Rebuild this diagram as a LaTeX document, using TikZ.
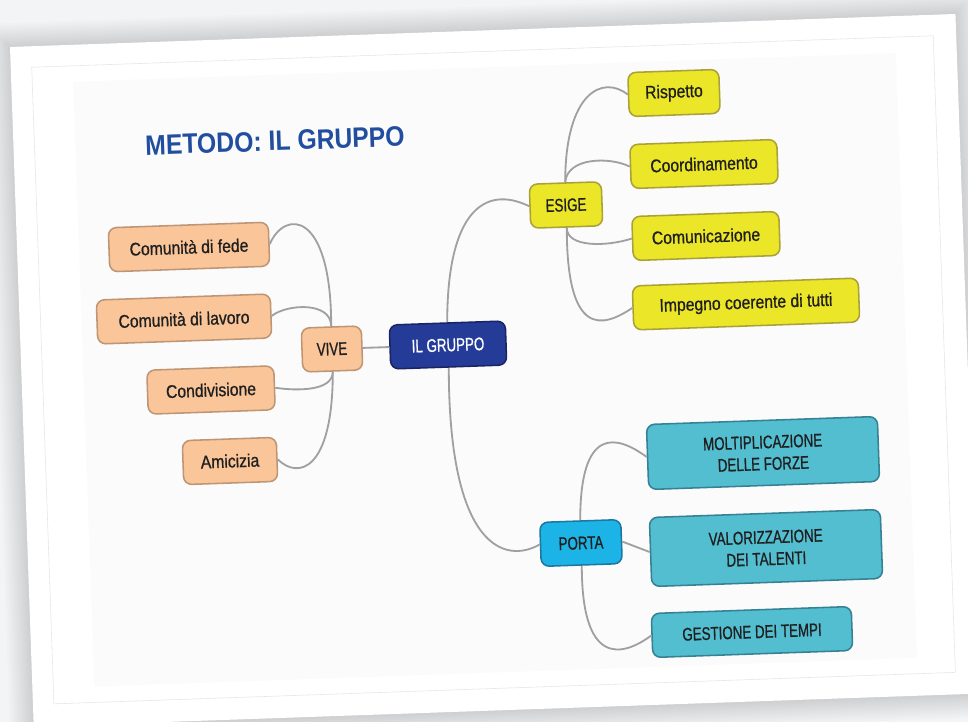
\documentclass[tikz,border=0pt]{standalone}
\usepackage{fontspec}
\setmainfont[FakeStretch=0.88]{Liberation Sans}
\newfontfamily\labelfont[FakeStretch=0.86,FakeBold=0.8]{Liberation Sans}
\newfontfamily\capsfont[FakeStretch=0.73,FakeBold=0.8]{Liberation Sans}

\definecolor{peach}{RGB}{249,197,153}
\definecolor{peachline}{RGB}{190,150,118}
\definecolor{giallo}{RGB}{236,230,40}
\definecolor{giallobordo}{RGB}{170,162,56}
\definecolor{ciano}{RGB}{28,180,230}
\definecolor{cianobordo}{RGB}{28,120,160}
\definecolor{verdeacqua}{RGB}{82,190,208}
\definecolor{verdeacquabordo}{RGB}{54,130,148}
\definecolor{blunotte}{RGB}{36,60,152}
\definecolor{blubordo}{RGB}{26,36,100}
\definecolor{titolo}{RGB}{34,78,160}
\definecolor{filo}{RGB}{160,160,162}
\definecolor{sfondo}{RGB}{243,244,246}
\definecolor{pannello}{RGB}{251,251,252}

\begin{document}
\begin{tikzpicture}[x=0.25mm,y=-0.25mm,
    box/.style={rounded corners=2mm, rotate=2, line width=1.1pt, inner sep=0pt,
        minimum height=11mm, text=black!88, align=center,
        font=\labelfont\fontsize{13}{14}\selectfont},
    caps/.style={font=\capsfont\fontsize{13}{15.5}\selectfont},
    vive/.style={box, fill=peach, draw=peachline},
    esige/.style={box, fill=giallo, draw=giallobordo},
    porta/.style={box, caps, fill=verdeacqua, draw=verdeacquabordo},
    link/.style={draw=filo, line width=1.3pt}]

        \useasboundingbox (0,0) rectangle (968,722);
        \clip (0,0) rectangle (968,722);
        \fill[sfondo] (0,0) rectangle (968,722);

        % Card, a little turned
        \begin{scope}[shift={(10,47)}, rotate=2]
            \foreach \s in {2,4,...,24}
                \fill[black, opacity=0.013] (-\s,-\s) rectangle (946+\s,680+\s);
            \fill[white] (0,0) rectangle (946,680);
            \draw[black!10, line width=0.4pt] (21,21) rectangle (923,658);
            \fill[pannello] (62,37) rectangle (885,642);
        \end{scope}

        \node[rotate=2, text=titolo, font=\bfseries\fontsize{20}{22}\selectfont] (Titolo) at (275,141) {METODO: IL GRUPPO};

        % Centre
        \node[box, caps, fill=blunotte, draw=blubordo, text=white, minimum width=29mm] (Gruppo) at (448,345) {IL GRUPPO};

        % Left branch
        \node[vive, caps, minimum width=15mm] (Vive) at (332,349) {VIVE};
        \node[vive, minimum width=40mm] (Fede) at (189,247) {Comunità di fede};
        \node[vive, minimum width=43.5mm] (Lavoro) at (184,319) {Comunità di lavoro};
        \node[vive, minimum width=31.75mm] (Condivisione) at (211,390) {Condivisione};
        \node[vive, minimum width=23.5mm] (Amicizia) at (230,461) {Amicizia};

        % Upper right branch
        \node[esige, caps, minimum width=18mm] (Esige) at (566,205) {ESIGE};
        \node[esige, minimum width=22.75mm] (Rispetto) at (674,93) {Rispetto};
        \node[esige, minimum width=36.75mm] (Coordinamento) at (704,164) {Coordinamento};
        \node[esige, minimum width=36.75mm] (Comunicazione) at (706,236) {Comunicazione};
        \node[esige, minimum width=56.5mm] (Impegno) at (746,304) {Impegno coerente di tutti};

        % Lower right branch
        \node[box, caps, fill=ciano, draw=cianobordo, minimum width=20.25mm] (Porta) at (581,543) {PORTA};
        \node[porta, minimum width=57.75mm, minimum height=16.25mm] (Forze) at (763,453) {MOLTIPLICAZIONE\\DELLE FORZE};
        \node[porta, minimum width=57.75mm, minimum height=17.25mm] (Talenti) at (766,548) {VALORIZZAZIONE\\DEI TALENTI};
        \node[porta, minimum width=50mm] (Tempi) at (752,632) {GESTIONE DEI TEMPI};

        \draw[link] (Vive.east) -- (Gruppo.west);
        \draw[link] (Porta.east) -- (Talenti.west);

        \foreach \from/\to/\ca/\cb in {
            Vive.north/Fede.east/{0,-116}/{15,-35},
            Vive.north/Lavoro.east/{0,-25}/{15,-12},
            Vive.south/Condivisione.east/{0,20}/{20,3},
            Vive.south/Amicizia.east/{0,100}/{20,20},
            Gruppo.north/Esige.west/{0,-110}/{-45,-22},
            Gruppo.south/Porta.west/{0,180}/{-35,20},
            Esige.north/Rispetto.west/{0,-90}/{-25,-20},
            Esige.north/Coordinamento.west/{2,-25}/{-20,-10},
            Esige.south/Comunicazione.west/{0,20}/{-25,8},
            Esige.south/Impegno.west/{0,110}/{-30,20},
            Porta.north/Forze.west/{0,-95}/{-30,-22},
            Porta.south/Tempi.west/{0,100}/{-30,22}}
        {
            \draw[link] (\from) .. controls +(\ca) and +(\cb) .. (\to);
        }
\end{tikzpicture}
\end{document}
